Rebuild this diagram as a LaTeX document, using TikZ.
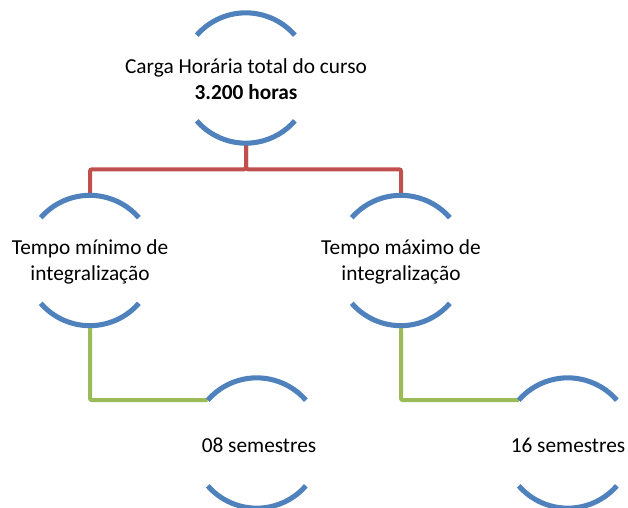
\documentclass[tikz,border=0pt]{standalone}
\usepackage{fontspec}
\setmainfont{Carlito}
\definecolor{ringblue}{HTML}{4F81BD}
\definecolor{linkred}{HTML}{C0504D}
\definecolor{linkgreen}{HTML}{9BBB59}
\begin{document}
\begin{tikzpicture}[x=0.75pt,y=-0.75pt,
  ring/.style={circle,minimum size=97.5pt,inner sep=0pt,draw=none},
  lbl/.style={align=center,font=\fontsize{16}{19.5}\selectfont,text=black},
  arcline/.style={draw=ringblue,line width=3.8pt},
  redlink/.style={draw=linkred,line width=3pt,rounded corners=1.5pt},
  greenlink/.style={draw=linkgreen,line width=3pt,rounded corners=1.5pt}]
\useasboundingbox (0,0) rectangle (628,507);
% ring nodes
\node[ring] (top) at (246,78) {};
\node[ring] (min) at (90,260.5) {};
\node[ring] (max) at (401,260.5) {};
\node[ring] (s8) at (257,443) {};
\node[ring] (s16) at (568,443) {};
% labels
\node[lbl] (toptxt) at (246,79) {Carga Horária total do curso\\\textbf{3.200 horas}};
\node[lbl] (mintxt) at (90,262) {Tempo mínimo de\\integralização};
\node[lbl] (maxtxt) at (401,262) {Tempo máximo de\\integralização};
\node[lbl] (s8txt) at (259,445) {08 semestres};
\node[lbl] (s16txt) at (568,445) {16 semestres};
% connectors
\draw[redlink] (top.south) -- ++(0,26) -| (min.north);
\draw[redlink] (top.south) -- ++(0,26) -| (max.north);
\draw[greenlink] (min.south) |- (s8.139);
\draw[greenlink] (max.south) |- (s16.139);
% arcs
\foreach \n in {top,min,max,s8,s16}{
  \draw[arcline] (\n.139) arc[start angle=139,end angle=41,radius=48.75pt];
  \draw[arcline] (\n.-139) arc[start angle=-139,end angle=-41,radius=48.75pt];
}
\end{tikzpicture}
\end{document}
